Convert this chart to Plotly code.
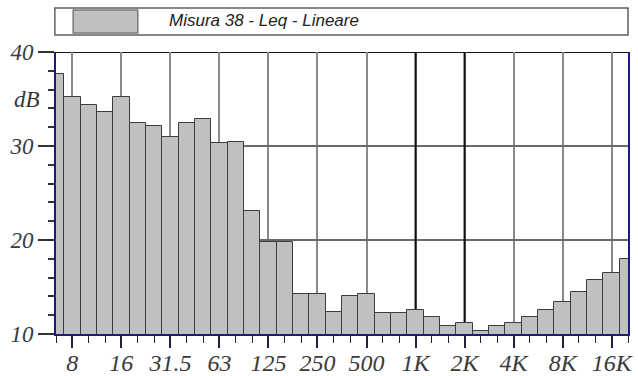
import plotly.graph_objects as go

# Third-octave band centre frequencies (Hz) and measured Leq levels (dB, linear weighting)
bands = ["6.3", "8", "10", "12.5", "16", "20", "25", "31.5", "40", "50", "63", "80",
         "100", "125", "160", "200", "250", "315", "400", "500", "630", "800",
         "1K", "1.25K", "1.6K", "2K", "2.5K", "3.15K", "4K", "5K", "6.3K", "8K",
         "10K", "12.5K", "16K", "20K"]
leq_db = [37.7, 35.2, 34.4, 33.6, 35.2, 32.5, 32.1, 31.0, 32.5, 32.9, 30.3, 30.4,
          23.1, 19.8, 19.8, 14.3, 14.3, 12.3, 14.0, 14.3, 12.2, 12.2,
          12.6, 11.8, 10.9, 11.2, 10.3, 10.9, 11.2, 11.8, 12.6, 13.4,
          14.5, 15.7, 16.5, 18.0]

# Octave bands that carry a label on the frequency axis
octave_labels = ["8", "16", "31.5", "63", "125", "250", "500", "1K", "2K", "4K", "8K", "16K"]
# Octave grid lines drawn heavier
heavy_freq = ["1K", "2K"]
# Level axis
db_ticks = [10, 20, 30, 40]
heavy_db = [30, 40]
db_range = [10, 40]

series_name = "Misura 38 - Leq - Lineare"

x_idx = list(range(len(bands)))
oct_idx = [bands.index(b) for b in octave_labels]

serif = "Liberation Serif, Times New Roman, serif"
sans = "Liberation Sans, Arial, sans-serif"
navy = "#1a1a80"

fig = go.Figure()
fig.add_trace(go.Bar(
    x=x_idx, y=leq_db, width=1.0,
    marker=dict(color="#c0c0c0", line=dict(color="#3c3c3c", width=1)),
    name=series_name, showlegend=False,
))

shapes = []
for f in heavy_freq:
    i = bands.index(f)
    shapes.append(dict(type="line", xref="x", yref="y", x0=i, x1=i,
                       y0=db_range[0], y1=db_range[1], layer="between",
                       line=dict(color="#101010", width=2)))
for d in heavy_db:
    shapes.append(dict(type="line", xref="paper", yref="y", x0=0, x1=1,
                       y0=d, y1=d, layer="between",
                       line=dict(color="#151515", width=2)))

# Legend frame with a wide swatch
shapes.append(dict(type="rect", xref="paper", yref="paper",
                   x0=-0.002, x1=1.0, y0=1.060, y1=1.156,
                   line=dict(color="#606060", width=1.5), fillcolor="white",
                   layer="above"))
shapes.append(dict(type="rect", xref="paper", yref="paper",
                   x0=0.030, x1=0.143, y0=1.067, y1=1.149,
                   line=dict(color="#7a7a7a", width=1.5), fillcolor="#c0c0c0",
                   layer="above"))

fig.update_layout(
    width=638, height=376,
    margin=dict(l=56, r=10, t=52, b=42, autoexpand=False),
    paper_bgcolor="white", plot_bgcolor="white",
    bargap=0,
    shapes=shapes,
    annotations=[
        dict(text=series_name, xref="paper", yref="paper", x=0.194, y=1.110,
             xanchor="left", yanchor="middle", showarrow=False,
             font=dict(family=sans, size=17, color="#222222", style="italic")),
        dict(text="dB", xref="paper", yref="y", x=-0.05, y=34.9,
             xanchor="center", yanchor="middle", showarrow=False,
             font=dict(family=serif, size=23, color="#333333", style="italic")),
    ],
    xaxis=dict(
        range=[0, len(bands) - 1], automargin=False,
        tickmode="array", tickvals=oct_idx, ticktext=octave_labels,
        ticks="outside", ticklen=12, tickwidth=1.5, tickcolor="#202040",
        ticklabelstandoff=-6,
        showgrid=True, gridcolor="#8a8a8a", gridwidth=1.5,
        showline=True, linecolor=navy, linewidth=2,
        minor=dict(tickmode="linear", tick0=0, dtick=1, ticks="outside",
                   ticklen=7, tickwidth=1, tickcolor="#202040", showgrid=False),
        tickfont=dict(family=serif, size=24, color="#3a3a3a", style="italic"),
        zeroline=False,
    ),
    yaxis=dict(
        range=db_range, automargin=False,
        tickmode="array", tickvals=db_ticks,
        ticks="outside", ticklen=16, tickwidth=1.5, tickcolor="#333333",
        showgrid=True, gridcolor="#6a6a6a", gridwidth=1.5,
        showline=True, linecolor=navy, linewidth=2, mirror=True,
        minor=dict(tickmode="linear", tick0=10, dtick=2, ticks="outside",
                   ticklen=6, tickwidth=1.5, tickcolor="#333333", showgrid=False),
        tickfont=dict(family=serif, size=23, color="#3a3a3a", style="italic"),
        zeroline=False,
    ),
)

fig.write_html("out.html")
